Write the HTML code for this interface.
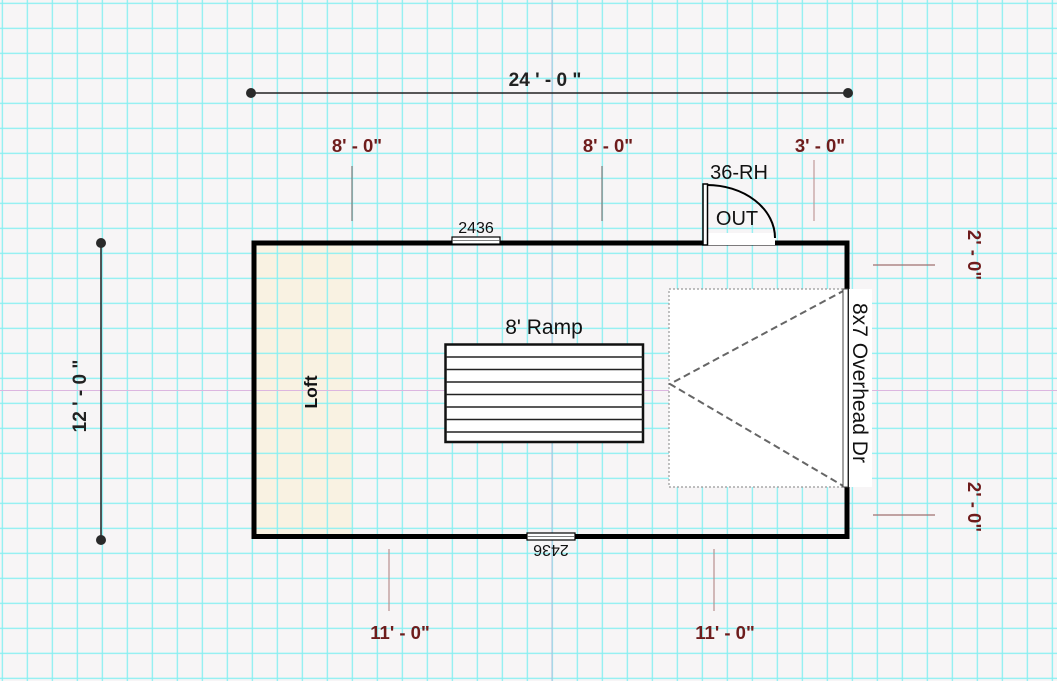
<!DOCTYPE html>
<html><head><style>
html,body{margin:0;padding:0;background:#f7f5f6;}
svg{display:block;font-family:"Liberation Sans",sans-serif;}
</style></head><body>
<svg width="1057" height="681" viewBox="0 0 1057 681" xmlns="http://www.w3.org/2000/svg">
<defs>
<pattern id="g" x="1.7" y="2.7" width="25" height="25" patternUnits="userSpaceOnUse">
<path d="M0.5 0V25M0 0.5H25" stroke="#86f0f2" stroke-width="1.5" fill="none"/>
</pattern>
</defs>
<rect width="1057" height="681" fill="#f7f5f6"/>
<rect x="256" y="245" width="97" height="290" fill="#f9f2e2"/>
<rect width="1057" height="681" fill="url(#g)"/>
<line x1="552" y1="0" x2="552" y2="681" stroke="#a8bedc" stroke-width="1"/>
<line x1="0" y1="390.5" x2="1057" y2="390.5" stroke="#dcb6e0" stroke-width="1"/>

<line x1="251" y1="93" x2="848" y2="93" stroke="#222" stroke-width="1.5"/>
<circle cx="251" cy="93" r="5" fill="#2a2a2a"/><circle cx="848" cy="93" r="5" fill="#2a2a2a"/>
<text x="545" y="86" font-size="19" font-weight="bold" text-anchor="middle" fill="#222">24 ' - 0 "</text>
<line x1="101" y1="243" x2="101" y2="540" stroke="#222" stroke-width="1.5"/>
<circle cx="101" cy="243" r="5" fill="#2a2a2a"/><circle cx="101" cy="540" r="5" fill="#2a2a2a"/>
<text transform="translate(86,396) rotate(-90)" font-size="19" font-weight="bold" text-anchor="middle" fill="#222">12 ' - 0 "</text>

<g font-size="18.5" font-weight="bold" fill="#6e1c1c" text-anchor="middle">
<text x="357" y="152">8' - 0"</text>
<text x="608" y="152">8' - 0"</text>
<text x="820" y="152">3' - 0"</text>
<text x="400" y="639">11' - 0"</text>
<text x="725" y="639">11' - 0"</text>
<text transform="translate(968,255) rotate(90)">2' - 0"</text>
<text transform="translate(968,507) rotate(90)">2' - 0"</text>
</g>
<g stroke-width="1.2">
<line x1="352" y1="166" x2="352" y2="221" stroke="#777"/>
<line x1="602" y1="166" x2="602" y2="221" stroke="#777"/>
<line x1="814" y1="160" x2="814" y2="221" stroke="#c09898"/>
<line x1="389" y1="549" x2="389" y2="611" stroke="#b89090"/>
<line x1="714" y1="549" x2="714" y2="611" stroke="#b89090"/>
<line x1="873" y1="265" x2="935" y2="265" stroke="#a07070"/>
<line x1="873" y1="515" x2="935" y2="515" stroke="#a07070"/>
</g>

<rect x="254" y="243" width="593" height="293.5" fill="none" stroke="#000" stroke-width="5"/>

<rect x="669" y="289" width="176" height="198" fill="#fff" stroke="#999" stroke-width="1.2" stroke-dasharray="2,2"/>
<path d="M845 290 L670 384 L845 487" fill="none" stroke="#666" stroke-width="2" stroke-dasharray="7,4"/>
<rect x="843" y="289" width="5" height="198" fill="#fff" stroke="#444" stroke-width="1"/>
<rect x="849" y="289" width="23" height="198" fill="#fff"/>
<text transform="translate(853,383) rotate(90)" font-size="21" text-anchor="middle" fill="#111">8x7 Overhead Dr</text>

<rect x="452" y="237" width="48" height="7" fill="#fff" stroke="#000" stroke-width="1.2"/>
<line x1="452" y1="240.5" x2="500" y2="240.5" stroke="#555" stroke-width="0.8"/>
<text x="476" y="233" font-size="16" text-anchor="middle" fill="#111">2436</text>
<rect x="527" y="533" width="48" height="7" fill="#fff" stroke="#000" stroke-width="1.2"/>
<line x1="527" y1="536.5" x2="575" y2="536.5" stroke="#555" stroke-width="0.8"/>
<text transform="translate(551,545) rotate(180)" font-size="16" text-anchor="middle" fill="#111">2436</text>

<rect x="707" y="233" width="68" height="12" fill="#fff"/>
<rect x="703" y="184" width="4.5" height="61" fill="#fff" stroke="#000" stroke-width="1.5"/>
<path d="M707 185 A68 53 0 0 1 775 238" fill="none" stroke="#000" stroke-width="2"/>
<text x="737" y="225" font-size="20" text-anchor="middle" fill="#111">OUT</text>
<text x="739" y="179" font-size="20" text-anchor="middle" fill="#111">36-RH</text>

<rect x="445.5" y="344.5" width="197.5" height="97.5" fill="#fff" stroke="#111" stroke-width="2.5"/>
<g stroke="#222" stroke-width="1.5">
<line x1="446" y1="357" x2="643" y2="357"/>
<line x1="446" y1="369.5" x2="643" y2="369.5"/>
<line x1="446" y1="382" x2="643" y2="382"/>
<line x1="446" y1="394.5" x2="643" y2="394.5"/>
<line x1="446" y1="407" x2="643" y2="407"/>
<line x1="446" y1="419.5" x2="643" y2="419.5"/>
<line x1="446" y1="432" x2="643" y2="432"/>
</g>
<text x="544" y="334" font-size="21" text-anchor="middle" fill="#111">8' Ramp</text>

<text transform="translate(317,392) rotate(-90)" font-size="17.5" font-weight="bold" text-anchor="middle" fill="#111">Loft</text>
</svg>
</body></html>
